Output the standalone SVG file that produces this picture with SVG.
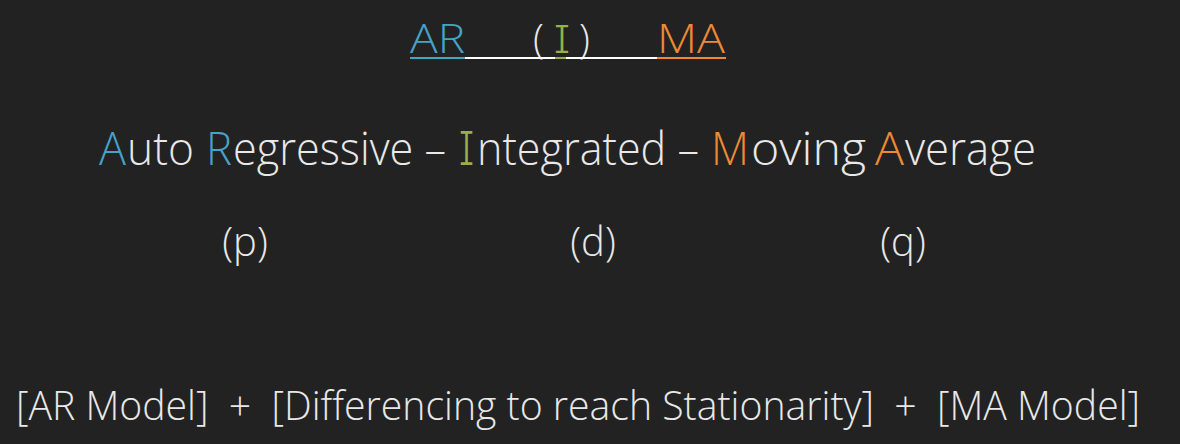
<svg xmlns="http://www.w3.org/2000/svg" width="1180" height="444" viewBox="0 0 1180 444">
  <style>
    .t { font-family: "Open Sans", "Liberation Sans", sans-serif; font-weight: 300; fill: #e8e8e8; white-space: pre; }
    .serif-i { font-family: "Inter", "Open Sans", sans-serif; font-weight: 300; font-feature-settings: "cv08" 1; }
    .name { font-size: 46px; }
    .blue { fill: #45a2c8; }
    .green { fill: #9aae4c; }
    .orange { fill: #ee8a36; }
  </style>
  <rect width="1180" height="444" fill="#222222"/>

  <!-- Acronym heading with coloured underline -->
  <g id="acronym">
    <text class="t blue" x="410" y="53" font-size="40" textLength="55" lengthAdjust="spacingAndGlyphs">AR</text>
    <text class="t" x="533" y="53" font-size="40">(</text>
    <text class="t green serif-i" x="554" y="53" font-size="38">I</text>
    <text class="t" x="579" y="53" font-size="40">)</text>
    <text class="t orange" x="657" y="53" font-size="40" textLength="68" lengthAdjust="spacingAndGlyphs">MA</text>
    <rect x="410" y="57" width="55" height="2" fill="#45a2c8"/>
    <rect x="465" y="57" width="90" height="2" fill="#ffffff"/>
    <rect x="555" y="57" width="11" height="2" fill="#9aae4c"/>
    <rect x="566" y="57" width="91" height="2" fill="#ffffff"/>
    <rect x="657" y="57" width="69" height="2" fill="#ee8a36"/>
  </g>

  <!-- Expanded name, initials coloured -->
  <g id="full-name">
    <text class="t name blue" x="99" y="165" textLength="27" lengthAdjust="spacingAndGlyphs">A</text>
    <text class="t name" x="127" y="165" textLength="67" lengthAdjust="spacingAndGlyphs">uto</text>
    <text class="t name blue" x="206" y="165" textLength="26" lengthAdjust="spacingAndGlyphs">R</text>
    <text class="t name" x="233" y="165" textLength="213" lengthAdjust="spacingAndGlyphs">egressive –</text>
    <text class="t name green serif-i" x="459" y="165" textLength="15" lengthAdjust="spacingAndGlyphs">I</text>
    <text class="t name" x="477" y="165" textLength="222" lengthAdjust="spacingAndGlyphs">ntegrated –</text>
    <text class="t name orange" x="711" y="165" textLength="38" lengthAdjust="spacingAndGlyphs">M</text>
    <text class="t name" x="751" y="165" textLength="115" lengthAdjust="spacingAndGlyphs">oving</text>
    <text class="t name orange" x="875" y="165" textLength="29" lengthAdjust="spacingAndGlyphs">A</text>
    <text class="t name" x="905" y="165" textLength="131" lengthAdjust="spacingAndGlyphs">verage</text>
  </g>

  <!-- Order parameters -->
  <g id="params">
    <text class="t" x="245" y="256" font-size="40" text-anchor="middle">(p)</text>
    <text class="t" x="593" y="256" font-size="40" text-anchor="middle">(d)</text>
    <text class="t" x="903" y="256" font-size="40" text-anchor="middle">(q)</text>
  </g>

  <!-- Components -->
  <g id="components">
    <text class="t" x="16" y="420" font-size="40" textLength="1124" lengthAdjust="spacingAndGlyphs">[AR Model]  +  [Differencing to reach Stationarity]  +  [MA Model]</text>
  </g>
</svg>
